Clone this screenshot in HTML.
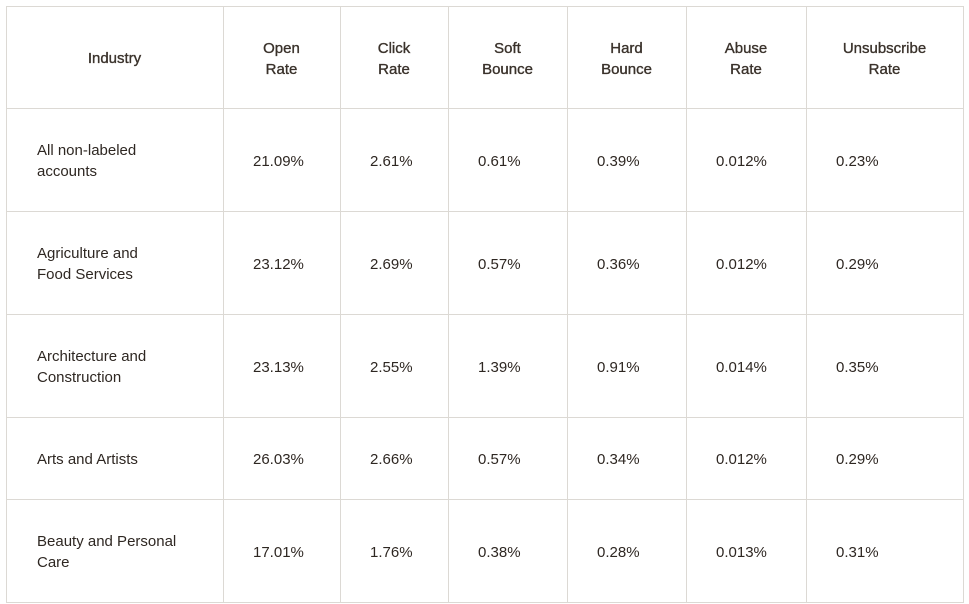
<!DOCTYPE html>
<html><head><style>
body{margin:0;width:969px;height:604px;background:#fff;position:relative;overflow:hidden;font-family:"Liberation Sans",sans-serif;color:#2e2722;font-size:15px;}
.v{position:absolute;top:6px;height:597px;width:1px;background:#dcd9d4}
.h{position:absolute;left:6px;width:958px;height:1px;background:#dcd9d4}
.c{position:absolute;display:flex;align-items:center;line-height:21px;padding-top:3px;box-sizing:border-box}
.hd{justify-content:center;text-align:center;color:#3a322b;-webkit-text-stroke:0.35px #3a322b}
</style></head><body>
<div class="v" style="left:6px"></div><div class="v" style="left:223px"></div><div class="v" style="left:340px"></div><div class="v" style="left:448px"></div><div class="v" style="left:567px"></div><div class="v" style="left:686px"></div><div class="v" style="left:806px"></div><div class="v" style="left:963px"></div>
<div class="h" style="top:6px"></div><div class="h" style="top:108px"></div><div class="h" style="top:211px"></div><div class="h" style="top:314px"></div><div class="h" style="top:417px"></div><div class="h" style="top:499px"></div><div class="h" style="top:602px"></div>
<div id="t"></div>
<script>
var cols=[6,223,340,448,567,686,806,963],rows=[6,108,211,314,417,499,602];
var hdr=["Industry","Open<br>Rate","Click<br>Rate","Soft<br>Bounce","Hard<br>Bounce","Abuse<br>Rate","Unsubscribe<br>Rate"];
var data=[["All non-labeled<br>accounts","21.09%","2.61%","0.61%","0.39%","0.012%","0.23%"],
["Agriculture and<br>Food Services","23.12%","2.69%","0.57%","0.36%","0.012%","0.29%"],
["Architecture and<br>Construction","23.13%","2.55%","1.39%","0.91%","0.014%","0.35%"],
["Arts and Artists","26.03%","2.66%","0.57%","0.34%","0.012%","0.29%"],
["Beauty and Personal<br>Care","17.01%","1.76%","0.38%","0.28%","0.013%","0.31%"]];
var h="";
for(var i=0;i<7;i++){h+='<div class="c hd" style="left:'+cols[i]+'px;width:'+(cols[i+1]-cols[i])+'px;top:'+rows[0]+'px;height:'+(rows[1]-rows[0])+'px">'+hdr[i]+'</div>';}
for(var r=0;r<5;r++)for(var i=0;i<7;i++){h+='<div class="c" style="left:'+(cols[i]+(i==0?31:30))+'px;width:'+(cols[i+1]-cols[i]-30)+'px;top:'+rows[r+1]+'px;height:'+(rows[r+2]-rows[r+1])+'px">'+data[r][i]+'</div>';}
document.getElementById("t").innerHTML=h;
</script>
</body></html>
